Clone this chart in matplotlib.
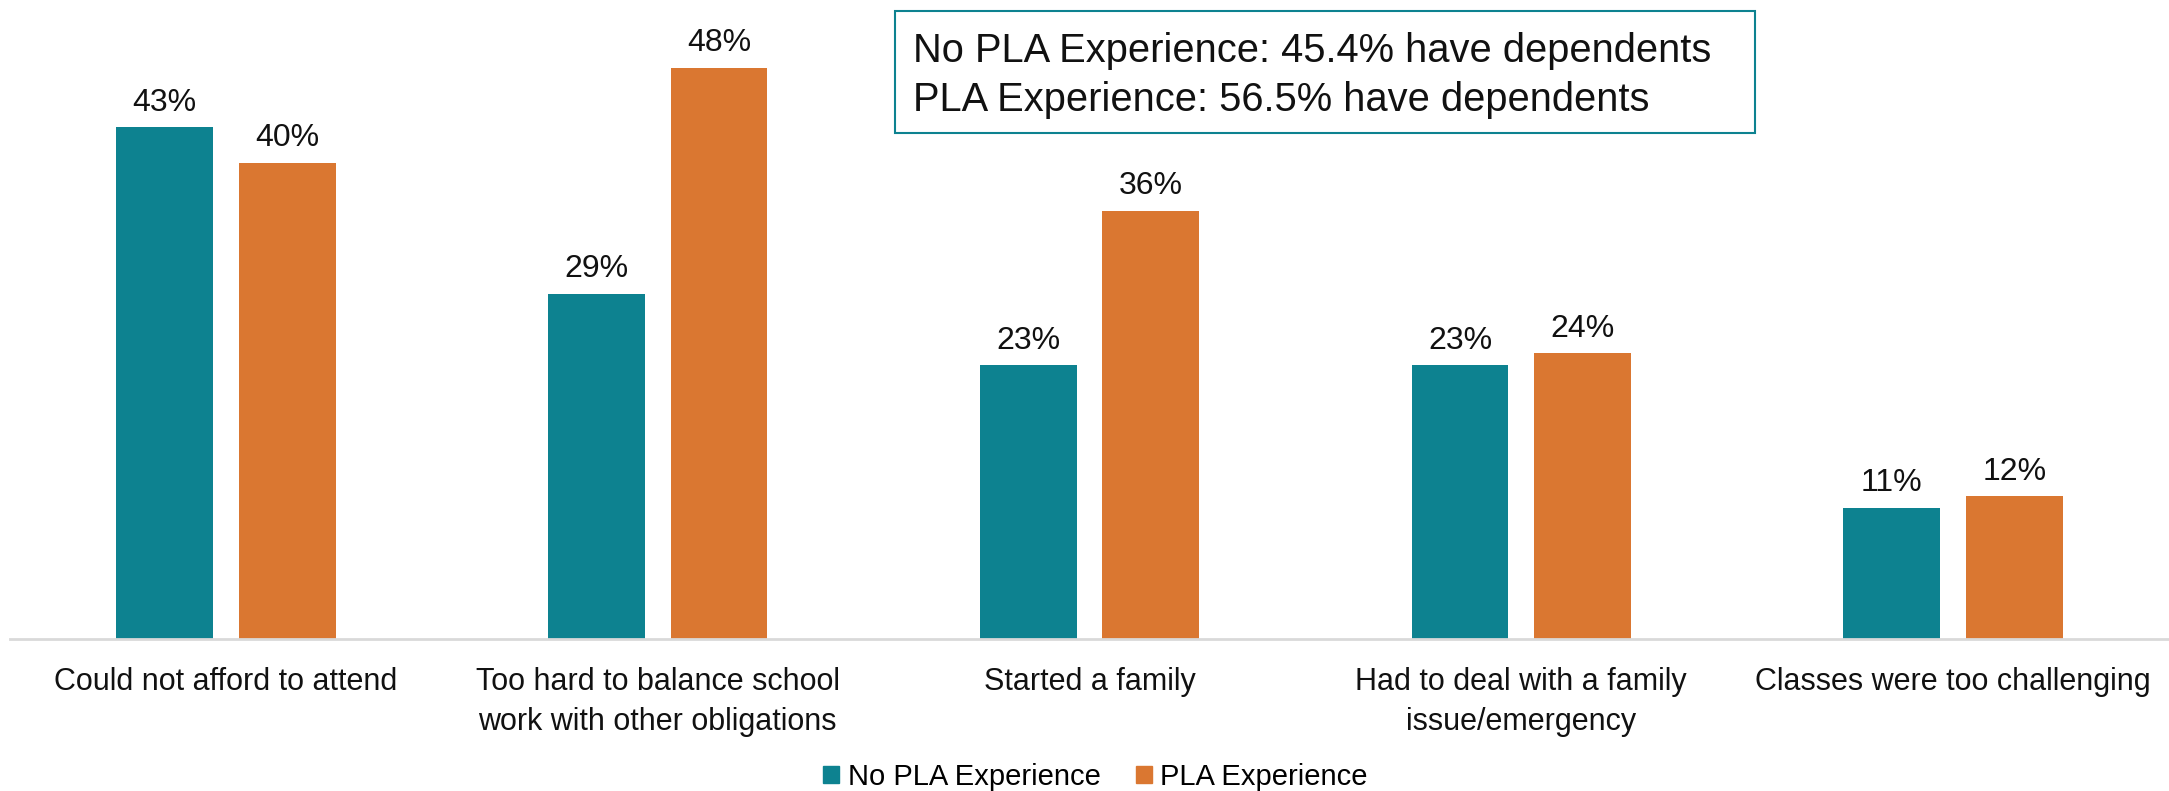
import matplotlib
matplotlib.use("Agg")
import matplotlib.pyplot as plt
from matplotlib.patches import Rectangle, Patch
import numpy as np

categories = ["Could not afford to attend",
              "Too hard to balance school\nwork with other obligations",
              "Started a family",
              "Had to deal with a family\nissue/emergency",
              "Classes were too challenging"]
series_names = ["No PLA Experience", "PLA Experience"]
no_pla = [43, 29, 23, 23, 11]
pla = [40, 48, 36, 24, 12]
box_lines = ["No PLA Experience: 45.4% have dependents",
             "PLA Experience: 56.5% have dependents"]

teal = "#0D8290"
orange = "#DA7731"

plt.rcParams['font.family'] = ['Liberation Sans', 'DejaVu Sans']

fig = plt.figure(figsize=(21.69, 7.91), dpi=100)
ax = fig.add_axes([0.0046, 0.192, 0.9954, 0.808])

x = np.arange(len(categories))
w = 0.224
off = 0.142
b1 = ax.bar(x - off, no_pla, w, color=teal, label=series_names[0])
b2 = ax.bar(x + off, pla, w, color=orange, label=series_names[1])
for bars, vals in ((b1, no_pla), (b2, pla)):
    for r, v in zip(bars, vals):
        ax.annotate(f"{v}%", (r.get_x() + r.get_width() / 2, v),
                    xytext=(0, 7), textcoords="offset points",
                    ha="center", va="bottom", fontsize=23, color="#111111")

ax.set_xlim(-0.5, 4.5)
ax.set_ylim(0, 53.7)
ax.set_yticks([])
for s in ["top", "right", "left"]:
    ax.spines[s].set_visible(False)
ax.spines["bottom"].set_color("#D9D9D9")
ax.spines["bottom"].set_linewidth(2)
ax.set_xticks(x)
ax.set_xticklabels(categories, fontsize=22, linespacing=1.42, color="#111111")
ax.tick_params(axis="x", length=0, pad=20)

# annotation box
fig.patches.append(Rectangle((895 / 2169, 1 - 133 / 791), 860 / 2169, 122 / 791,
                             transform=fig.transFigure, fill=False,
                             edgecolor=teal, linewidth=1.5))
fig.text(913 / 2169, 1 - 62 / 791, box_lines[0], fontsize=28.7, color="#111111",
         va="baseline", ha="left")
fig.text(913 / 2169, 1 - 111 / 791, box_lines[1], fontsize=28.7, color="#111111",
         va="baseline", ha="left")

handles = [Patch(color=teal), Patch(color=orange)]
fig.legend(handles, series_names, loc="center", bbox_to_anchor=(0.505, 1 - 777 / 791),
           ncol=2, frameon=False, fontsize=21, handlelength=0.55, handleheight=0.55,
           handletextpad=0.3, columnspacing=1.2)

fig.savefig("out.png", dpi=100)
